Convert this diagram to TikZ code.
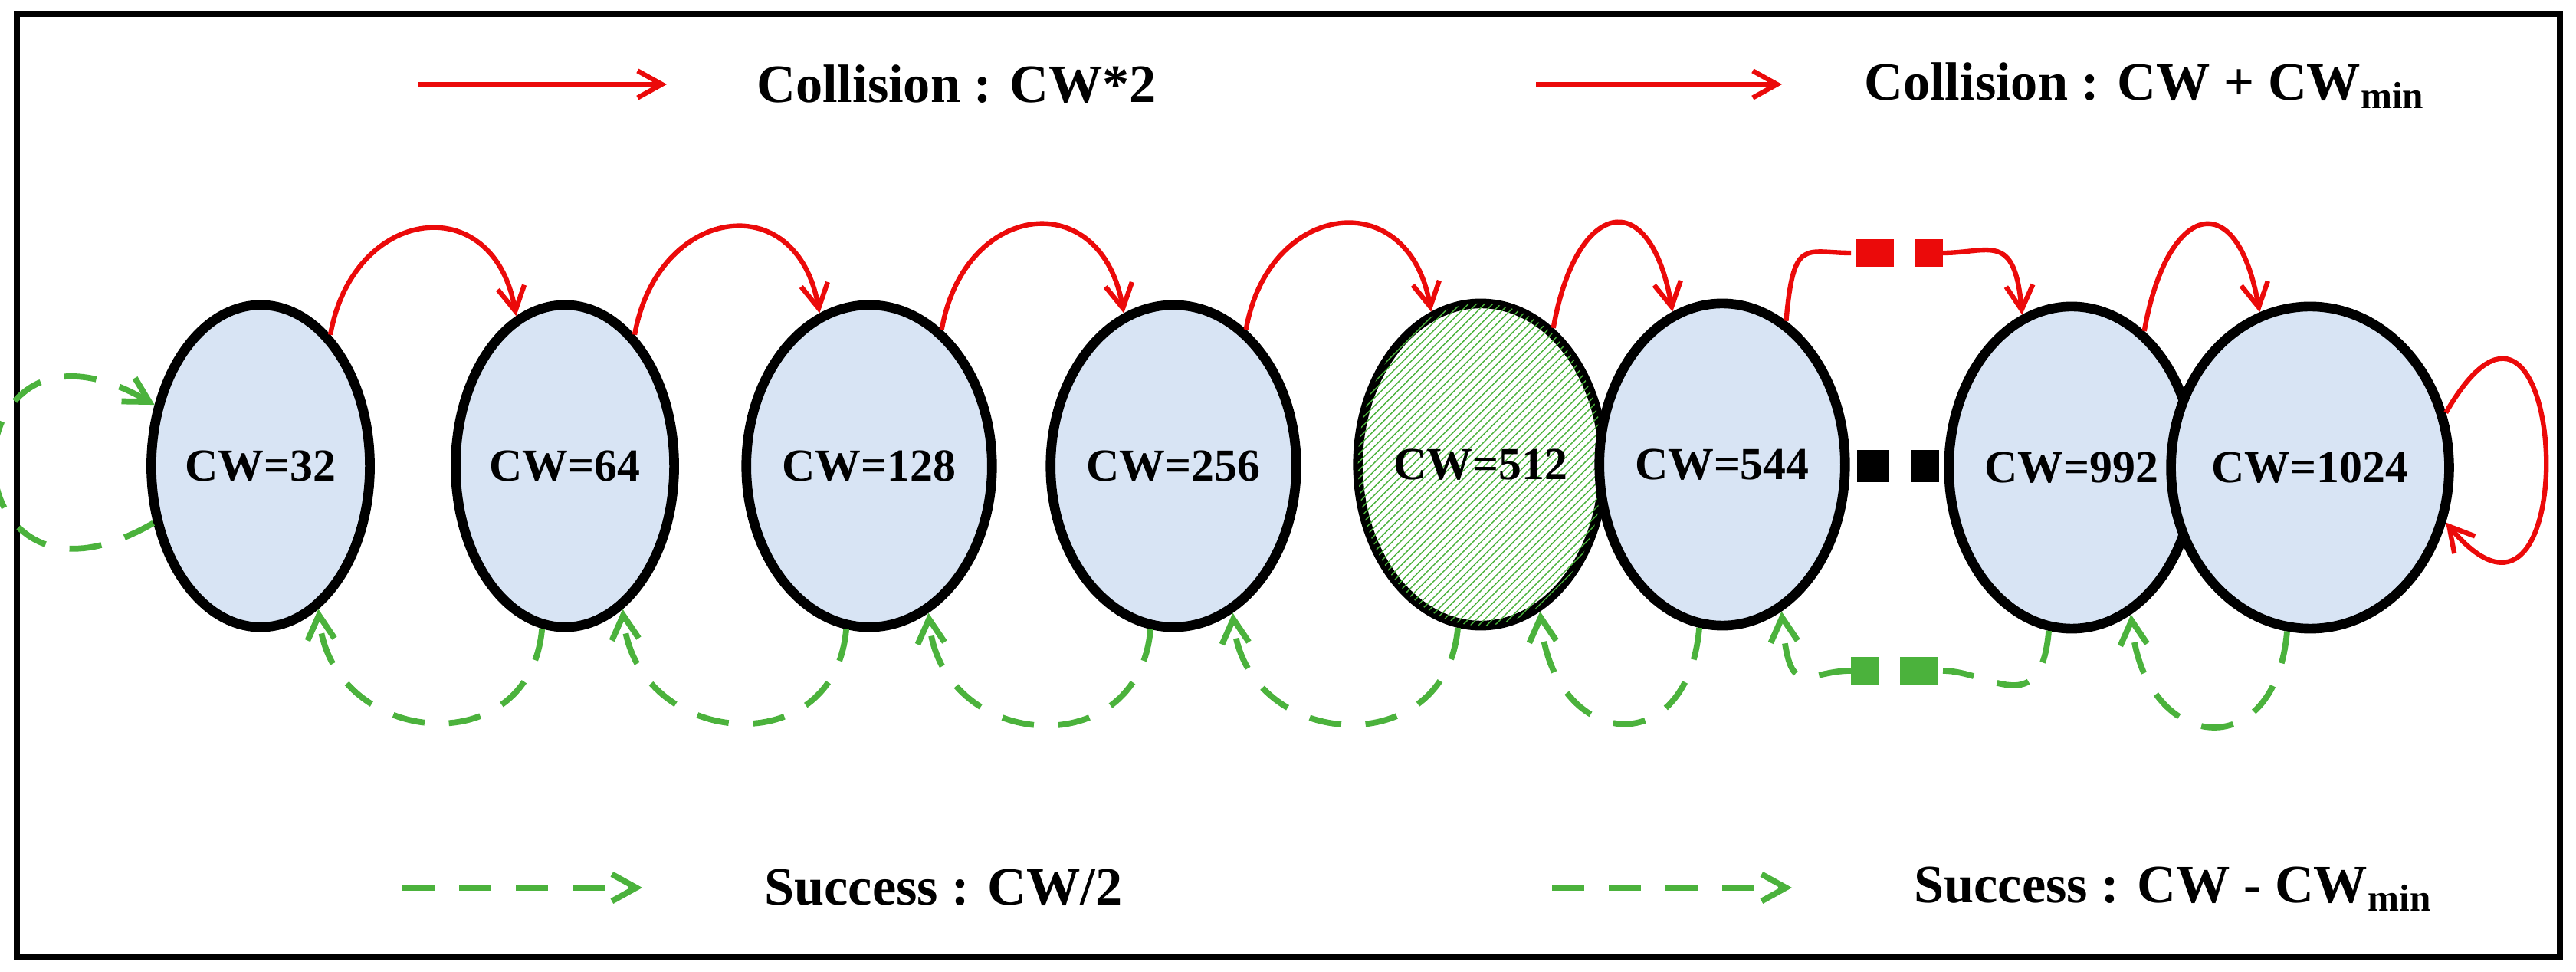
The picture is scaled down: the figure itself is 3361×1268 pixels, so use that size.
\documentclass[tikz,border=0pt]{standalone}
\usepackage{fontspec}
\setmainfont{Liberation Serif}
\usetikzlibrary{arrows.meta,patterns,shapes.geometric}
\definecolor{cred}{RGB}{235,10,10}
\definecolor{cgreen}{RGB}{75,178,60}
\definecolor{cblue}{RGB}{216,228,244}
\begin{document}
\begin{tikzpicture}[x=0.01cm,y=-0.01cm,
 st/.style={ellipse,draw=black,line width=3.6pt,fill=cblue,minimum width=2.85cm,minimum height=4.2cm,inner sep=0pt,font=\fontsize{17}{17}\bfseries},
 col/.style={draw=cred,line width=1.8pt,-{Straight Barb[length=9pt,width=10pt,line width=1.8pt]}},
 suc/.style={draw=cgreen,line width=2.2pt,dash pattern=on 12pt off 9pt,-{Straight Barb[length=9pt,width=10pt,line width=2.2pt]}},
 lbl/.style={font=\fontsize{20}{20}\bfseries,anchor=west}]
\useasboundingbox (0,0) rectangle (3361,1268);
\draw[line width=2.5pt] (22,18) rectangle (3340,1248);
% legend
\coordinate (l1a) at (546,110); \coordinate (l1b) at (870,110);
\draw[col] (l1a) -- (l1b);
\node[lbl] (t1) at (975,110) {Collision : CW*2};
\coordinate (l2a) at (2004,110); \coordinate (l2b) at (2325,110);
\draw[col] (l2a) -- (l2b);
\node[lbl] (t2) at (2420,112) {Collision : CW + CW\textsubscript{min}};
\coordinate (l3a) at (525,1158); \coordinate (l3b) at (838,1158);
\draw[suc] (l3a) -- (l3b);
\node[lbl] (t3) at (985,1158) {Success : CW/2};
\coordinate (l4a) at (2025,1158); \coordinate (l4b) at (2338,1158);
\draw[suc] (l4a) -- (l4b);
\node[lbl] (t4) at (2485,1160) {Success : CW - CW\textsubscript{min}};
% states
\node[st] (a) at (340,608) {CW=32};
\node[st] (b) at (737,608) {CW=64};
\node[st] (c) at (1134,608) {CW=128};
\node[st] (d) at (1531,608) {CW=256};
\node[st,fill=white,postaction={pattern=north east lines,pattern color=cgreen}] (e) at (1932,606) {CW=512};
\node[st] (f) at (2247,606) {CW=544};
\node[st] (g) at (2703,610) {CW=992};
\node[st] (h) at (3014,610) {CW=1024};
\coordinate (k1) at (2423,608); \coordinate (k2) at (2530,608);
\draw[line width=12pt,dash pattern=on 12pt off 8pt] (k1) -- (k2);
% collisions
\foreach \p/\q in {a/b,b/c,c/d,d/e,e/f,g/h}
  \draw[col] (\p.62) .. controls +(80:1.7cm) and +(100:1.7cm) .. (\q.108);
\coordinate (rd1) at (2415,330); \coordinate (rd2) at (2535,330);
\draw[draw=cred,line width=1.8pt] (f.66) .. controls +(85:1.1cm) and +(180:0.6cm) .. (rd1);
\draw[draw=cred,line width=10pt,dash pattern=on 14pt off 8pt] ([xshift=2pt]rd1) -- (rd2);
\draw[col] (rd2) .. controls +(0:0.6cm) and +(95:1.1cm) .. (g.108);
\draw[col] (h.22) .. controls +(60:3.2cm) and +(-50:2.9cm) .. (h.-22);
% successes
\foreach \p/\q in {b/a,c/b,d/c,e/d,f/e,h/g}
  \draw[suc] (\p.-98) .. controls +(-95:1.8cm) and +(-85:1.8cm) .. (\q.-68);
\coordinate (gd1) at (2415,875); \coordinate (gd2) at (2535,875);
\draw[draw=cgreen,line width=2.2pt,dash pattern=on 12pt off 9pt] (g.-98) .. controls +(-95:1.2cm) and +(0:0.6cm) .. (gd2);
\draw[draw=cgreen,line width=10pt,dash pattern=on 14pt off 8pt] ([xshift=-2pt]gd2) -- (gd1);
\draw[suc] (gd1) .. controls +(180:0.6cm) and +(-85:1.2cm) .. (f.-68);
\draw[suc] (a.-152) .. controls +(-150:3.2cm) and +(150:3.2cm) .. (a.150);
\end{tikzpicture}
\end{document}
